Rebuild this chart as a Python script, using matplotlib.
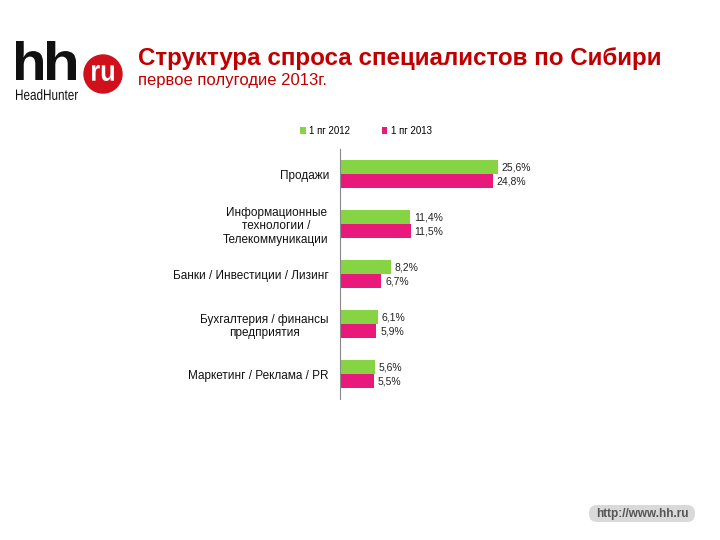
import matplotlib.pyplot as plt
from matplotlib.patches import Circle, FancyBboxPatch, PathPatch
from matplotlib.textpath import TextPath
from matplotlib.font_manager import FontProperties
from matplotlib.transforms import Affine2D
import numpy as np

plt.rcParams['font.family'] = ['Liberation Sans', 'DejaVu Sans']

categories = ["Продажи", "Информационные\nтехнологии /\nТелекоммуникации",
              "Банки / Инвестиции / Лизинг", "Бухгалтерия / финансы\nпредприятия",
              "Маркетинг / Реклама / PR"]
vals_2012 = [25.6, 11.4, 8.2, 6.1, 5.6]
vals_2013 = [24.8, 11.5, 6.7, 5.9, 5.5]
labels_2012 = ["25,6%", "11,4%", "8,2%", "6,1%", "5,6%"]
labels_2013 = ["24,8%", "11,5%", "6,7%", "5,9%", "5,5%"]
series_names = ["1 пг 2012", "1 пг 2013"]

green = "#86D343"
pink = "#E8197B"
red = "#C00000"

W, H = 720, 540
fig = plt.figure(figsize=(7.2, 5.4), dpi=100)

# chart area in pixels: axis at x=340, y from 149 to 399
ax = fig.add_axes([340 / W, 1 - 399 / H, 220 / W, 250 / H])
y = np.arange(len(categories))
h = 0.28
ax.barh(y - h / 2, vals_2012, height=h, color=green, label=series_names[0])
ax.barh(y + h / 2, vals_2013, height=h, color=pink, label=series_names[1])
for i in range(len(categories)):
    ax.text(vals_2012[i] + 0.6, y[i] - h / 2, labels_2012[i], va='center', ha='left', fontsize=7.5, color='#222222')
    ax.text(vals_2013[i] + 0.6, y[i] + h / 2, labels_2013[i], va='center', ha='left', fontsize=7.5, color='#222222')
ax.set_xlim(0, 220 / 6.17)
ax.set_ylim(len(categories) - 0.5, -0.5)
ax.set_yticks(y)
ax.set_yticklabels(categories, fontsize=8.5, linespacing=1.15, color='#111111')
for lbl in ax.get_yticklabels():
    lbl.set_multialignment('center')
ax.tick_params(axis='y', length=0, pad=8)
ax.set_xticks([])
for s in ['top', 'right', 'bottom']:
    ax.spines[s].set_visible(False)
ax.spines['left'].set_color('#888888')
ax.spines['left'].set_linewidth(0.8)

fig.legend(loc='center', bbox_to_anchor=(366 / W, 1 - 131 / H), ncol=2, frameon=False,
           fontsize=7, handlelength=0.6, handleheight=0.6, handletextpad=0.4, columnspacing=3.2)

# title
fig.text(138 / W, 1 - 58 / H, "Структура спроса специалистов по Сибири", color=red,
         fontsize=17.4, fontweight='bold', va='center', ha='left')
fig.text(138 / W, 1 - 81 / H, "первое полугодие 2013г.", color=red,
         fontsize=12, va='center', ha='left')

# overlay axes in pixel coordinates for logo and footer
px = fig.add_axes([0, 0, 1, 1], facecolor='none')
px.set_xlim(0, W)
px.set_ylim(H, 0)
px.axis('off')


def fit_text(s, x0, x1, y0, y1, weight, color):
    tp = TextPath((0, 0), s, size=10, prop=FontProperties(family='Liberation Sans', weight=weight))
    ext = tp.get_extents()
    sx = (x1 - x0) / ext.width
    sy = (y1 - y0) / ext.height
    tr = Affine2D().translate(-ext.x0, -ext.y0).scale(sx, -sy).translate(x0, y1)
    px.add_patch(PathPatch(tr.transform_path(tp), facecolor=color, edgecolor='none'))


fit_text("h", 16, 43, 41, 80, 'bold', '#111111')
fit_text("h", 47, 76, 41, 80, 'bold', '#111111')
fit_text("HeadHunter", 16, 78, 89, 100, 'normal', '#111111')
px.add_patch(Circle((103, 74), 19, color='#D0101B'))
fit_text("ru", 92, 114, 65, 81, 'bold', 'white')

# footer link
px.add_patch(FancyBboxPatch((589, 505), 106, 17, boxstyle="round,pad=0,rounding_size=8",
                            facecolor='#D9D9D9', edgecolor='none'))
px.text(642, 513.5, "http://www.hh.ru", fontsize=8.5, fontweight='bold', color='#555555',
        ha='center', va='center')

fig.savefig("out.png", dpi=100)
